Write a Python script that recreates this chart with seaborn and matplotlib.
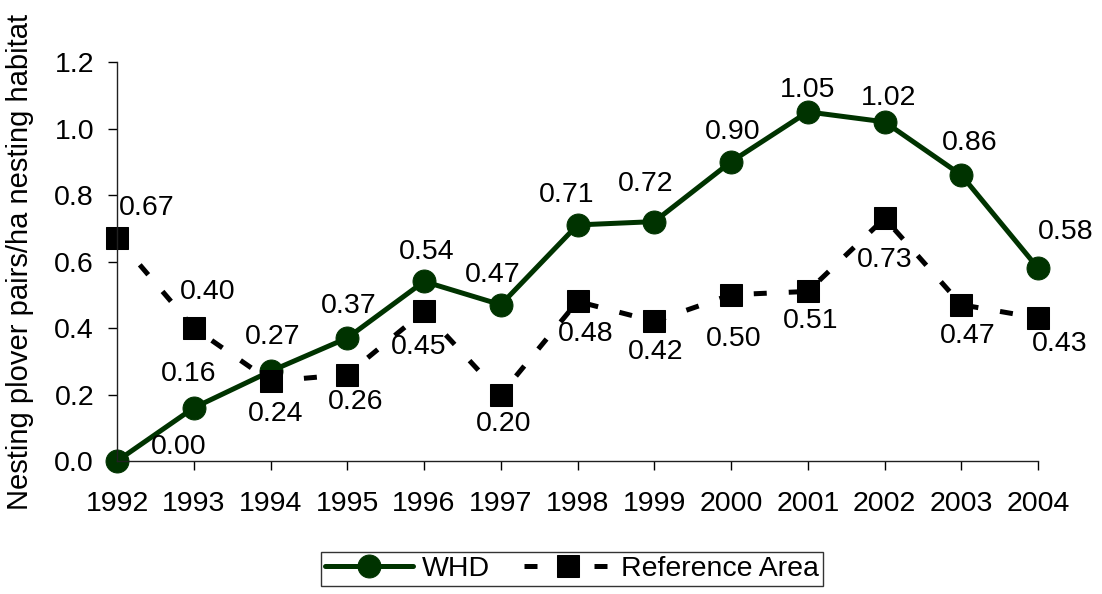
import pandas as pd
import matplotlib.pyplot as plt
import seaborn as sns

years = [1992, 1993, 1994, 1995, 1996, 1997, 1998, 1999, 2000, 2001, 2002, 2003, 2004]
whd = [0.00, 0.16, 0.27, 0.37, 0.54, 0.47, 0.71, 0.72, 0.90, 1.05, 1.02, 0.86, 0.58]
ref_area = [0.67, 0.40, 0.24, 0.26, 0.45, 0.20, 0.48, 0.42, 0.50, 0.51, 0.73, 0.47, 0.43]
yticks = [0.0, 0.2, 0.4, 0.6, 0.8, 1.0, 1.2]

# label offsets in pixels (dx, dy), dy up
whd_off = [(62, 14), (-5, 34), (2, 34), (1, 32), (3, 29), (-8, 30), (-11, 30), (-9, 38),
           (2, 30), (0, 22), (4, 24), (8, 32), (28, 36)]
ref_off = [(30, 30), (14, 36), (5, -33), (8, -27), (-5, -36), (3, -29), (8, -33), (1, -31),
           (3, -44), (3, -30), (0, -42), (6, -31), (22, -26)]

df = pd.DataFrame({'Year': years, 'WHD': whd, 'Reference Area': ref_area})

sns.set_style('ticks')
plt.rcParams['font.family'] = ['Liberation Sans', 'DejaVu Sans']
plt.rcParams['text.color'] = 'black'
plt.rcParams['axes.labelcolor'] = 'black'
fs = 20.5

fig = plt.figure(figsize=(11.02, 5.94), dpi=100)
ax = fig.add_axes([0.1062, 0.2239, 0.8358, 0.6717])

green = '#003300'
sns.lineplot(x='Year', y='WHD', data=df, ax=ax, color=green, linewidth=3.6,
             marker='o', markersize=16.5, markeredgecolor=green, label='WHD')
sns.lineplot(x='Year', y='Reference Area', data=df, ax=ax, color='black', linewidth=3.6,
             marker='s', markersize=16.5, markeredgecolor='black', label='Reference Area')
ax.lines[1].set_dashes([2.6, 4.4])

for x, y, (dx, dy) in zip(years, whd, whd_off):
    ax.annotate(f'{y:.2f}', (x, y), xytext=(dx * 0.72, dy * 0.72), textcoords='offset points',
                ha='center', va='center', fontsize=fs, color='black')
for x, y, (dx, dy) in zip(years, ref_area, ref_off):
    ax.annotate(f'{y:.2f}', (x, y), xytext=(dx * 0.72, dy * 0.72), textcoords='offset points',
                ha='center', va='center', fontsize=fs, color='black')

ax.set_xlim(1992, 2004)
ax.set_ylim(0, 1.2)
ax.set_xticks(years)
ax.set_xticklabels([str(y) for y in years], fontsize=fs)
ax.set_yticks(yticks)
ax.set_yticklabels([f'{t:.1f}' for t in yticks], fontsize=fs)
ax.tick_params(axis='both', length=6.5, width=1, colors='black')
ax.tick_params(axis='x', pad=15)
ax.tick_params(axis='y', pad=10)
ax.set_xlabel('')
ax.set_ylabel('Nesting plover pairs/ha nesting habitat', fontsize=21, color='black')
ax.yaxis.set_label_coords(-0.090, 0.5)
for s in ['top', 'right']:
    ax.spines[s].set_visible(False)
for s in ['left', 'bottom']:
    ax.spines[s].set_color('#202020')
    ax.spines[s].set_linewidth(1)
for ln in ax.lines:
    ln.set_clip_on(False)

ax.legend(loc='center', bbox_to_anchor=(0.519, 0.042), bbox_transform=fig.transFigure,
          ncol=2, fontsize=fs, frameon=True, fancybox=False, edgecolor='black',
          handlelength=3.1, columnspacing=1.2, handletextpad=0.3, borderpad=0.15,
          borderaxespad=0)
leg = ax.get_legend()
leg.get_frame().set_linewidth(1)

plt.savefig('out.png', dpi=100)
